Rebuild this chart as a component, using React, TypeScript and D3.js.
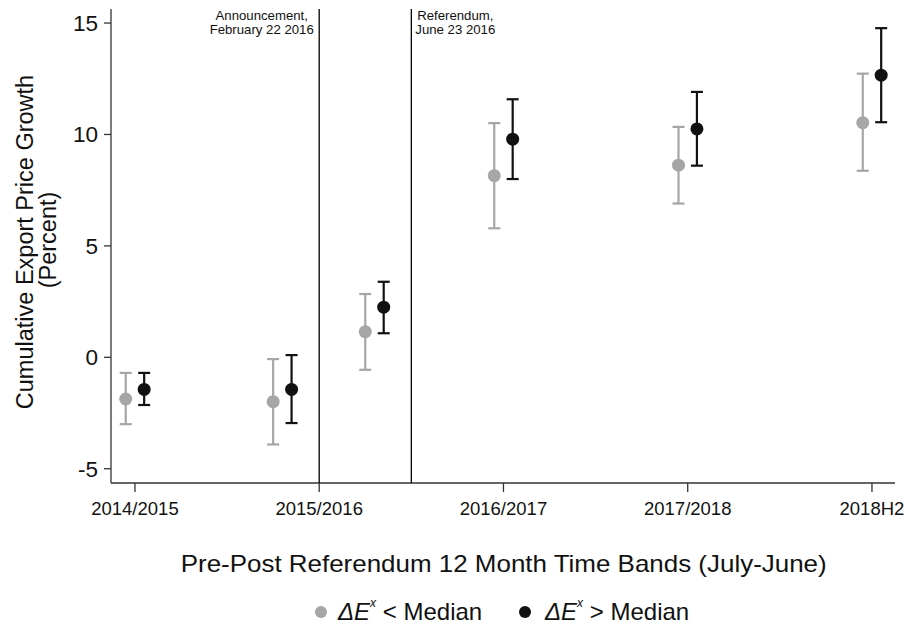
import React from "react";
import * as d3 from "d3";

const categories = ["2014/2015", "2015/2016", "2016/2017", "2017/2018", "2018H2"];
const categoryTicks = [0, 1, 2, 3, 4];
const yTicks = [-5, 0, 5, 10, 15];
const bandPositions = [0, 0.8, 1.3, 2, 3, 4];

const lowEst = [-1.87, -1.99, 1.15, 8.15, 8.62, 10.53];
const lowLo = [-3.0, -3.91, -0.56, 5.79, 6.9, 8.37];
const lowHi = [-0.7, -0.08, 2.84, 10.51, 10.34, 12.73];

const highEst = [-1.44, -1.44, 2.25, 9.79, 10.25, 12.66];
const highLo = [-2.14, -2.95, 1.08, 8.0, 8.6, 10.55];
const highHi = [-0.7, 0.1, 3.39, 11.58, 11.91, 14.77];

const eventLines = [
  { x: 1, lines: ["Announcement,", "February 22 2016"] },
  { x: 1.5, lines: ["Referendum,", "June 23 2016"] },
];

const W = 906;
const H = 629;
const FONT = "Liberation Sans, Arial, sans-serif";
const GREY = "#a6a6a6";
const BLACK = "#111111";

export default function App() {
  const x = d3.scaleLinear().domain([-0.13, 4.125]).range([111, 895]);
  const y = d3.scaleLinear().domain([-5.64, 15.63]).range([483, 9]);
  const off = 0.05;
  const cap = 6;

  const series = [
    { est: lowEst, lo: lowLo, hi: lowHi, color: GREY, dx: -off },
    { est: highEst, lo: highLo, hi: highHi, color: BLACK, dx: off },
  ];

  return (
    <svg
      width={W}
      height={H}
      style={{ position: "absolute", left: 0, top: 0, background: "#fff" }}
      fontFamily={FONT}
    >
      <rect width={W} height={H} fill="#fff" />
      {/* axes */}
      <line x1={x.range()[0]} x2={x.range()[0]} y1={y.range()[1]} y2={y.range()[0]} stroke="#333" strokeWidth={1.3} />
      <line x1={x.range()[0]} x2={x.range()[1]} y1={y.range()[0]} y2={y.range()[0]} stroke="#333" strokeWidth={1.3} />
      {yTicks.map((t) => (
        <g key={t}>
          <line x1={x.range()[0] - 7} x2={x.range()[0]} y1={y(t)} y2={y(t)} stroke="#333" strokeWidth={1.3} />
          <text x={x.range()[0] - 13} y={y(t) + 8} textAnchor="end" fontSize={22.5} fill="#111">
            {t}
          </text>
        </g>
      ))}
      {categoryTicks.map((t, i) => (
        <g key={t}>
          <line x1={x(t)} x2={x(t)} y1={y.range()[0]} y2={y.range()[0] + 9} stroke="#333" strokeWidth={1.3} />
          <text x={x(t)} y={515} textAnchor="middle" fontSize={18.5} fill="#111">
            {categories[i]}
          </text>
        </g>
      ))}

      {/* event lines */}
      {eventLines.map((e, i) => (
        <g key={i}>
          <line x1={x(e.x)} x2={x(e.x)} y1={y.range()[1]} y2={y.range()[0]} stroke="#000" strokeWidth={1.3} />
          {e.lines.map((l, j) => (
            <text
              key={j}
              x={i === 0 ? x(e.x) - 57.5 : x(e.x) + 44}
              y={20 + j * 13.5}
              textAnchor="middle"
              fontSize={13.2}
              fill="#111"
            >
              {l}
            </text>
          ))}
        </g>
      ))}

      {/* error bars and points */}
      {series.map((s, si) => (
        <g key={si}>
          {bandPositions.map((p, i) => {
            const cx = x(p + s.dx);
            return (
              <g key={i}>
                <line x1={cx} x2={cx} y1={y(s.lo[i])} y2={y(s.hi[i])} stroke={s.color} strokeWidth={2.2} />
                <line x1={cx - cap} x2={cx + cap} y1={y(s.lo[i])} y2={y(s.lo[i])} stroke={s.color} strokeWidth={2.2} />
                <line x1={cx - cap} x2={cx + cap} y1={y(s.hi[i])} y2={y(s.hi[i])} stroke={s.color} strokeWidth={2.2} />
                <circle cx={cx} cy={y(s.est[i])} r={6.5} fill={s.color} />
              </g>
            );
          })}
        </g>
      ))}

      {/* axis titles */}
      <text
        transform={`translate(33, 242) rotate(-90)`}
        textAnchor="middle"
        fontSize={23.5}
        fill="#111"
      >
        Cumulative Export Price Growth
      </text>
      <text
        transform={`translate(56, 240) rotate(-90)`}
        textAnchor="middle"
        fontSize={23.5}
        fill="#111"
      >
        (Percent)
      </text>
      <text
        x={503.7}
        y={572}
        textAnchor="middle"
        fontSize={24}
        textLength={646}
        lengthAdjust="spacingAndGlyphs"
        fill="#111"
      >
        Pre-Post Referendum 12 Month Time Bands (July-June)
      </text>

      {/* legend */}
      <circle cx={321} cy={612} r={6} fill={GREY} />
      <text x={338} y={620} fontSize={24} fill="#111">
        <tspan fontStyle="italic">ΔE</tspan>
        <tspan fontStyle="italic" fontSize={12} dy={-13}>x</tspan>
        <tspan dy={13}> &lt; Median</tspan>
      </text>
      <circle cx={525} cy={612} r={6} fill={BLACK} />
      <text x={545} y={620} fontSize={24} fill="#111">
        <tspan fontStyle="italic">ΔE</tspan>
        <tspan fontStyle="italic" fontSize={12} dy={-13}>x</tspan>
        <tspan dy={13}> &gt; Median</tspan>
      </text>
    </svg>
  );
}
